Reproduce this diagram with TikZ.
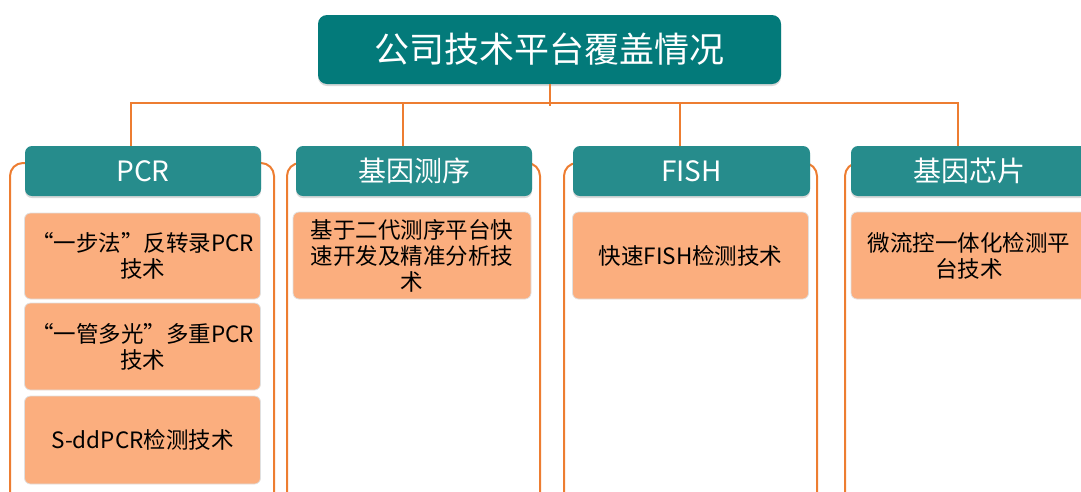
\documentclass[tikz,border=0pt]{standalone}
\usepackage{fontspec}
\setmainfont{Noto Sans CJK SC}
\usetikzlibrary{shadows}
\definecolor{titleteal}{RGB}{3,122,122}
\definecolor{catteal}{RGB}{38,140,140}
\definecolor{linkorange}{RGB}{237,125,49}
\definecolor{itemorange}{RGB}{251,174,126}
\tikzset{
  topbox/.style={fill=titleteal, rounded corners=9pt, text=white, minimum width=463pt, minimum height=69pt,
    font=\fontsize{35}{40}\selectfont, drop shadow={opacity=.3, shadow xshift=0pt, shadow yshift=-2pt}},
  catbox/.style={fill=catteal, rounded corners=7pt, text=white, minimum width=236pt, minimum height=50pt,
    font=\fontsize{28}{32}\selectfont, drop shadow={opacity=.3, shadow xshift=0pt, shadow yshift=-2pt}},
  itembox/.style={fill=itemorange, draw=black!12, line width=.8pt, rounded corners=6pt, minimum width=236pt,
    text width=224pt, align=center, font=\fontsize{22.5}{26}\selectfont},
  link/.style={draw=linkorange, line width=2pt},
  frame/.style={draw=linkorange, line width=2pt, rounded corners=13pt}
}
\begin{document}
\begin{tikzpicture}[x=1pt,y=-1pt]
  \useasboundingbox (0,0) rectangle (1081,491);
  \clip (0,0) rectangle (1081,491);
  % containers
  \draw[frame] (10,163) rectangle (274,510);
  \draw[frame] (287,163) rectangle (540,510);
  \draw[frame] (564,163) rectangle (817,510);
  \draw[frame] (845,163) rectangle (1110,510);
  % title
  \node[topbox] (title) at (549.5,49.5) {公司技术平台覆盖情况};
  % categories
  \node[catbox] (pcr) at (143,171) {PCR};
  \node[catbox] (seq) at (414,171) {基因测序};
  \node[catbox, minimum width=237pt] (fish) at (691.5,171) {FISH};
  \node[catbox] (chip) at (969,171) {基因芯片};
  % connectors
  \coordinate (bus) at (549.5,103);
  \draw[link] (title.south) -- ++(0,22);
  \draw[link] ([xshift=-12pt]pcr.north) |- (bus) -| ([xshift=-11pt]chip.north);
  \draw[link] ([xshift=-11pt]seq.north) -- ([xshift=-11pt]seq.north |- bus);
  \draw[link] ([xshift=-11.5pt]fish.north) -- ([xshift=-11.5pt]fish.north |- bus);
  % items
  \node[itembox, minimum height=86pt] (pcra) at (142.5,256) {“一步法”反转录PCR\\技术};
  \node[itembox, minimum height=87pt] (pcrb) at (142.5,346.5) {“一管多光”多重PCR\\技术};
  \node[itembox, minimum height=88pt] (pcrc) at (142.5,440) {S-ddPCR检测技术};
  \node[itembox, minimum height=87pt, minimum width=238pt] (seqa) at (412,255.5) {基于二代测序平台快\\速开发及精准分析技\\术};
  \node[itembox, minimum height=87pt] (fisha) at (690.5,255.5) {快速FISH检测技术};
  \node[itembox, minimum height=87pt] (chipa) at (969,255.5) {微流控一体化检测平\\台技术};
\end{tikzpicture}
\end{document}
